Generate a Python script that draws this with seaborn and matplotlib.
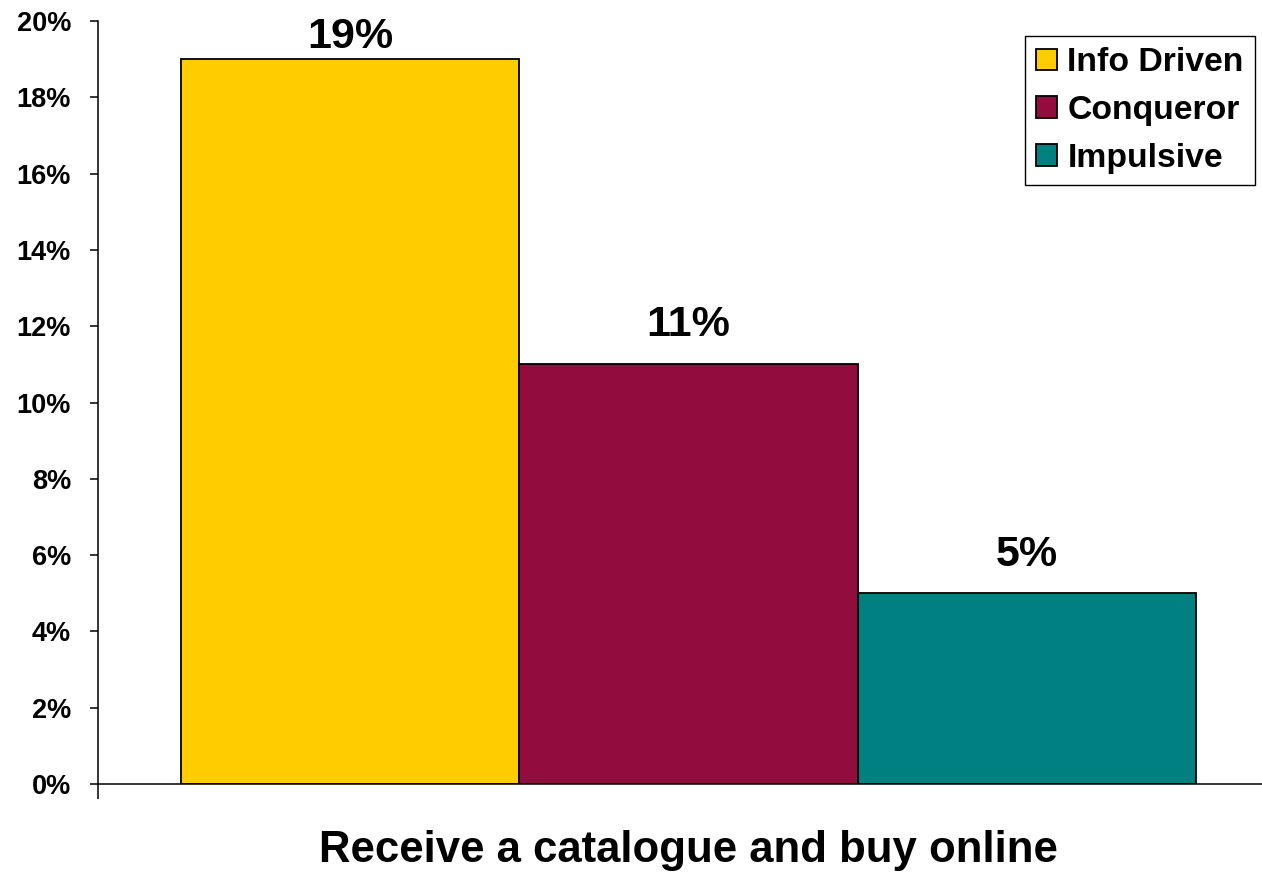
import matplotlib
matplotlib.use("Agg")
import matplotlib.pyplot as plt
import seaborn as sns
import pandas as pd

# Survey result: share of each shopper segment that receives a catalogue and buys online
CATEGORY = "Receive a catalogue and buy online"
SEGMENTS = ["Info Driven", "Conqueror", "Impulsive"]
SHARES = [19, 11, 5]  # percent
COLORS = ["#FFCC00", "#930C3E", "#008080"]
Y_TICKS = [0, 2, 4, 6, 8, 10, 12, 14, 16, 18, 20]

sns.set_style("ticks")
plt.rcParams["font.family"] = ["Liberation Sans", "DejaVu Sans"]
plt.rcParams["font.weight"] = "bold"
plt.rcParams["text.color"] = "black"
plt.rcParams["axes.labelcolor"] = "black"

df = pd.DataFrame({"item": [CATEGORY] * len(SEGMENTS), "segment": SEGMENTS, "share": SHARES})

fig = plt.figure(figsize=(12.62, 8.74), dpi=100)
ax = fig.add_axes([0.07765, 0.10297, 0.92235, 0.87300])

sns.barplot(
    data=df, x="item", y="share", hue="segment", hue_order=SEGMENTS,
    palette=COLORS, width=0.8, saturation=1, edgecolor="black", linewidth=1.3,
    errorbar=None, ax=ax,
)

# value labels above each bar; the tallest one sits closer so it stays near the plot top
paddings = [1.6, 13.8, 13.4]
for container, pad in zip(ax.containers, paddings):
    ax.bar_label(container, fmt="%.0f%%", padding=pad, fontsize=31,
                 fontweight="bold", color="black")

ax.set_ylim(0, 20)
ax.set_yticks(Y_TICKS)
ax.set_yticklabels([f"{t}%" for t in Y_TICKS])
xmin, xmax = -0.4654, 0.452
ax.set_xlim(xmin, xmax)
ax.set_xticks([xmin])
ax.set_xticklabels([""])

for side in ("top", "right"):
    ax.spines[side].set_visible(False)
for side in ("left", "bottom"):
    ax.spines[side].set_color("black")
    ax.spines[side].set_linewidth(1.1)

ax.tick_params(axis="y", direction="out", length=5.8, width=1.1, pad=13.7,
               labelsize=19.5, colors="black")
ax.tick_params(axis="x", direction="out", length=10.8, width=1.1, colors="black")
for lbl in ax.get_yticklabels():
    lbl.set_fontweight("bold")

ax.set_ylabel("")
ax.set_xlabel(CATEGORY, fontsize=31.5, fontweight="bold", color="black")
ax.xaxis.set_label_coords(0.5073, -0.0865)
ax.xaxis.label.set_verticalalignment("center")

leg = ax.legend(
    loc="upper right", bbox_to_anchor=(1255 / 1262, 1 - 36 / 874),
    bbox_transform=fig.transFigure, borderaxespad=0, frameon=True, fancybox=False,
    shadow=False, prop={"size": 24.3, "weight": "bold"},
    handlelength=0.6, handleheight=0.6, handletextpad=0.32,
    borderpad=0.33, labelspacing=0.5, title=None,
)
leg.get_frame().set_edgecolor("black")
leg.get_frame().set_linewidth(1.0)
leg.get_frame().set_alpha(1)
for txt in leg.get_texts():
    txt.set_color("black")

fig.savefig("out.png", dpi=100, facecolor="white")
